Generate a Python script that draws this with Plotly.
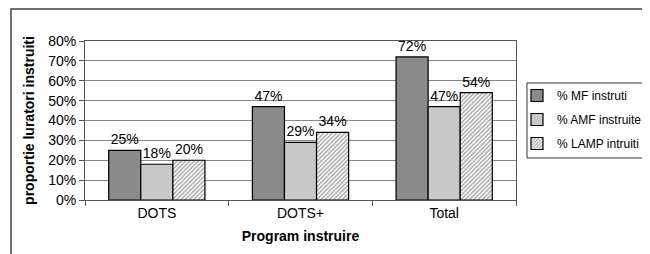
import plotly.graph_objects as go

categories = ["DOTS", "DOTS+", "Total"]
series_names = ["% MF instruti", "% AMF instruite", "% LAMP intruiti"]
mf = [25, 47, 72]
amf = [18, 29, 47]
lamp = [20, 34, 54]
y_ticks = [0, 10, 20, 30, 40, 50, 60, 70, 80]
y_tick_labels = [f"{v}%" for v in y_ticks]

FONT = "Liberation Sans, Arial, sans-serif"

fig = go.Figure()
fig.add_bar(x=categories, y=mf, name=series_names[0],
            marker=dict(color="#8a8a8a", line=dict(color="black", width=1.2)),
            text=[f"{v}%" for v in mf], textposition="outside", cliponaxis=False,
            legendgroup="a")
fig.add_bar(x=categories, y=amf, name=series_names[1],
            marker=dict(color="#c8c8c8", line=dict(color="black", width=1.2)),
            text=[f"{v}%" for v in amf], textposition="outside", cliponaxis=False,
            legendgroup="b")
fig.add_bar(x=categories, y=lamp, name=series_names[2],
            marker=dict(color="white", line=dict(color="black", width=1.2),
                        pattern=dict(shape="/", fgcolor="#555555", bgcolor="white",
                                     size=3, solidity=0.5)),
            text=[f"{v}%" for v in lamp], textposition="outside", cliponaxis=False,
            legendgroup="c")

fig.update_traces(textfont=dict(family=FONT, size=14, color="black"))

# page body has an 8px margin, so figure coordinates are shifted by 8
OFF = 8
L, R, T, B = 85 - OFF, 516 - OFF, 41 - OFF, 200 - OFF
W, H = 650 - OFF, 254 - OFF
pw, ph = R - L, B - T

def px(X):
    return (X - OFF - L) / pw

def py(Y):
    return (B - (Y - OFF)) / ph

fig.update_layout(
    width=W, height=H,
    margin=dict(l=L, r=W - R, t=T, b=H - B, pad=0, autoexpand=False),
    paper_bgcolor="white", plot_bgcolor="white",
    barmode="group", bargap=0.33, bargroupgap=0,
    font=dict(family=FONT, size=12, color="black"),
    showlegend=True,
    legend=dict(x=px(517), y=py(81), xanchor="left", yanchor="top",
                borderwidth=0, bgcolor="rgba(0,0,0,0)",
                font=dict(family=FONT, size=12), tracegroupgap=5,
                itemwidth=30),
    xaxis=dict(showline=True, linecolor="#555555", linewidth=1, mirror=True,
               ticks="outside", tickson="boundaries", ticklen=5, tickcolor="#555555",
               tickfont=dict(family=FONT, size=14), automargin=False,
               title=dict(text="<b>Program instruire</b>", font=dict(family=FONT, size=14),
                          standoff=11)),
    yaxis=dict(range=[0, 80], tickvals=y_ticks, ticktext=y_tick_labels,
               showline=True, linecolor="#555555", linewidth=1, mirror=True,
               ticks="outside", ticklen=5, tickcolor="#555555",
               showgrid=True, gridcolor="#888888", gridwidth=1,
               tickfont=dict(family=FONT, size=14), zeroline=False, automargin=False,
               title=dict(text="<b>proportie luratori instruiti</b>",
                          font=dict(family=FONT, size=14), standoff=10)),
    shapes=[
        dict(type="rect", xref="paper", yref="paper",
             x0=px(11), x1=px(670), y0=py(300), y1=py(9),
             line=dict(color="#444444", width=1.5), fillcolor="rgba(0,0,0,0)",
             layer="below"),
        dict(type="rect", xref="paper", yref="paper",
             x0=px(527), x1=px(649), y0=py(158), y1=py(83),
             line=dict(color="#333333", width=1), fillcolor="white",
             layer="above"),
    ],
)

fig.write_html("out.html")
